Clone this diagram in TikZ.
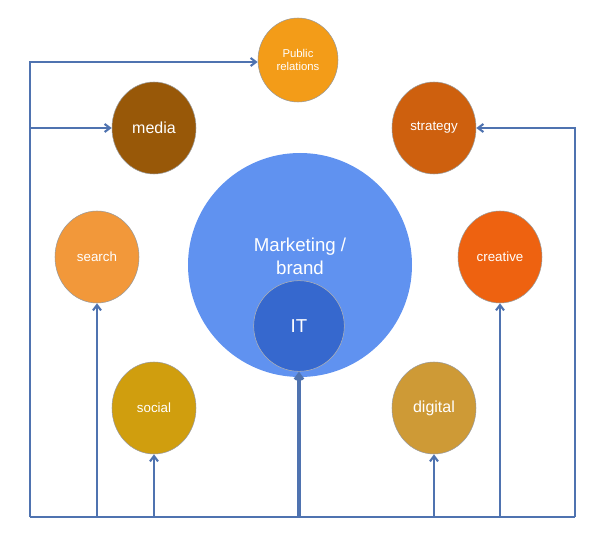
\documentclass[tikz,border=0pt]{standalone}
\usepackage{fontspec}
\setmainfont{Liberation Sans}
\usetikzlibrary{arrows.meta,shapes.geometric}
\definecolor{ln}{HTML}{4F73B0}
\definecolor{cpr}{RGB}{243,156,24}
\definecolor{cmed}{RGB}{152,88,8}
\definecolor{cstr}{RGB}{206,96,14}
\definecolor{csea}{RGB}{242,152,58}
\definecolor{ccre}{RGB}{238,98,16}
\definecolor{cmk}{RGB}{96,146,240}
\definecolor{cit}{RGB}{54,104,206}
\definecolor{csoc}{RGB}{208,158,14}
\definecolor{cdig}{RGB}{206,154,54}
\tikzset{
 bub/.style={ellipse,draw=black!40,line width=0.4pt,minimum width=63pt,minimum height=69pt,inner sep=0pt,text=white,font=\fontsize{10}{12}\selectfont,align=center},
 con/.style={draw=ln,line width=1.6pt},
 arr/.style={con,-{Straight Barb[length=4pt,width=6pt]}},
}
\begin{document}
\begin{tikzpicture}[x=0.75pt,y=-0.75pt]
\useasboundingbox (0,0) rectangle (600,545);
\node[bub,fill=cpr,minimum width=60pt,minimum height=63pt,font=\fontsize{8.5}{10}\selectfont] (pr) at (298,60) {Public\\relations};
\node[bub,fill=cmed,font=\fontsize{12}{14}\selectfont] (media) at (154,128) {media};
\node[bub,fill=cstr] (strat) at (434,128) {strategy};
\node[bub,fill=csea] (search) at (97,257) {search};
\node[bub,fill=ccre] (creat) at (500,257) {creative};
\node[bub,draw=none,fill=cmk,minimum width=168pt,minimum height=168pt] (mk) at (300,265) {};
\node[text=white,font=\fontsize{14}{17}\selectfont,align=center] (mkt) at (300,256) {Marketing /\\brand};
\node[bub,draw=black!30,fill=cit,minimum width=68pt,minimum height=68pt,font=\fontsize{14}{17}\selectfont] (it) at (299,326) {IT};
\node[bub,fill=csoc] (social) at (154,408) {social};
\node[bub,fill=cdig,font=\fontsize{12}{14}\selectfont] (dig) at (434,408) {digital};
\coordinate (bl) at (30,517);
\coordinate (br) at (575,517);
\coordinate (tl) at (30,62);
\coordinate (ml) at (30,128);
\coordinate (tr) at (575,128);
\draw[con] (bl) -- (br);
\draw[arr] (bl) -- (tl) -- (pr.west |- tl);
\draw[arr] (ml) -- (media.west);
\draw[arr] (br) -- (tr) -- (strat.east);
\draw[arr] (search.south |- bl) -- (search.south);
\draw[arr] (social.south |- bl) -- (social.south);
\draw[arr,line width=2.4pt] (it.south |- bl) -- (it.south);
\draw[arr] (dig.south |- bl) -- (dig.south);
\draw[arr] (creat.south |- bl) -- (creat.south);
\end{tikzpicture}
\end{document}
